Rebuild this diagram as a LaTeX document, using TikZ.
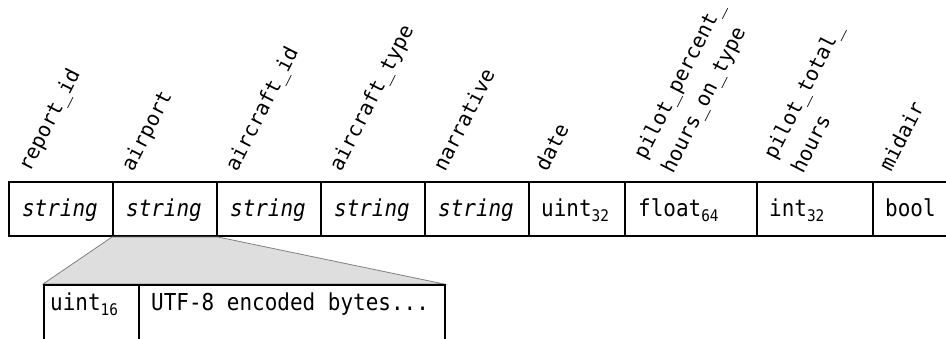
\documentclass[tikz,border=0pt]{standalone}
\usepackage{fontspec}
\setmonofont{DejaVu Sans Mono}
\begin{document}
\begin{tikzpicture}[x=1pt,y=-1pt,
  cell/.style={draw=black, line width=2pt, minimum height=54pt, inner sep=0pt, anchor=north west},
  txt/.style={font=\ttfamily\fontsize{23.3}{28}\selectfont, inner sep=0pt, anchor=base west, xscale=0.9},
  hdr/.style={font=\ttfamily\fontsize{20.5}{31}\selectfont, inner sep=0pt, anchor=base west, rotate=63},
  zoomfill/.style={fill=black!13, draw=black!50, line width=0.8pt}]
\useasboundingbox (0,0) rectangle (946,338);
\clip (0,0) rectangle (946,338);
\newcommand{\sbs}[1]{\raisebox{-5pt}{\fontsize{16}{16}\selectfont #1}}
\newcommand{\twoline}[2]{\begin{tabular}[b]{@{}l@{}}#1\\#2\end{tabular}}
% top row cells
\node[cell, minimum width=104pt] (c1) at (8,181) {};
\node[cell, minimum width=104pt] (c2) at (112,181) {};
\node[cell, minimum width=104pt] (c3) at (216,181) {};
\node[cell, minimum width=104pt] (c4) at (320,181) {};
\node[cell, minimum width=104pt] (c5) at (424,181) {};
\node[cell, minimum width=96pt] (c6) at (528,181) {};
\node[cell, minimum width=132pt] (c7) at (624,181) {};
\node[cell, minimum width=116pt] (c8) at (756,181) {};
\node[cell, minimum width=110pt] (c9) at (872,181) {};
% zoom trapezoid
\coordinate (b1nw) at (43,284);
\coordinate (b2ne) at (444,284);
\path[zoomfill] (c2.south west) -- (b1nw) -- (b2ne) -- (c2.south east) -- cycle;
% bottom cells
\node[cell, minimum width=95pt, minimum height=70pt] (b1) at (43,284) {};
\node[cell, minimum width=306pt, minimum height=70pt] (b2) at (138,284) {};
% cell texts
\node[txt, anchor=base] (t1) at (60,216) {\itshape string};
\node[txt, anchor=base] (t2) at (164,216) {\itshape string};
\node[txt, anchor=base] (t3) at (268,216) {\itshape string};
\node[txt, anchor=base] (t4) at (372,216) {\itshape string};
\node[txt, anchor=base] (t5) at (476,216) {\itshape string};
\node[txt] (t6) at (541,216) {uint\sbs{32}};
\node[txt] (t7) at (638,216) {float\sbs{64}};
\node[txt] (t8) at (769,216) {int\sbs{32}};
\node[txt] (t9) at (885,216) {bool};
\node[txt] (u1) at (50,310) {uint\sbs{16}};
\node[txt] (u2) at (151,310) {UTF-8 encoded bytes...};
% headers
\node[hdr] (h1) at (30,173) {report\_id};
\node[hdr] (h2) at (133,173) {airport};
\node[hdr] (h3) at (237,173) {aircraft\_id};
\node[hdr] (h4) at (341,173) {aircraft\_type};
\node[hdr] (h5) at (445,173) {narrative};
\node[hdr] (h6) at (547,173) {date};
\node[hdr] (h7) at (673,175) {\twoline{pilot\_percent\_}{hours\_on\_type}};
\node[hdr] (h8) at (803,175) {\twoline{pilot\_total\_}{hours}};
\node[hdr] (h9) at (891,173) {midair};
\end{tikzpicture}
\end{document}
